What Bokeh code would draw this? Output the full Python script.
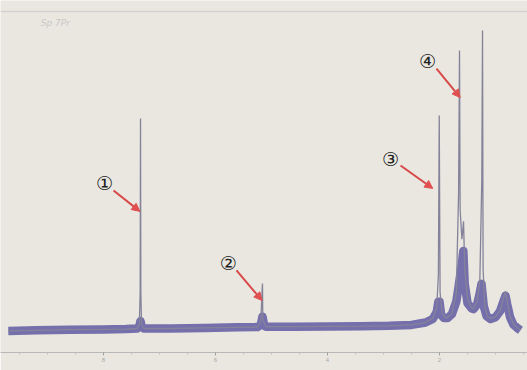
from bokeh.plotting import figure
from bokeh.models import Range1d, Arrow, NormalHead, Span, Label, FixedTicker
from bokeh.embed import file_html
from bokeh.resources import INLINE

# Spectrum (chemical shift in ppm, relative intensity)
spec_ppm = [9.7, 9.2, 8.6, 8.0, 7.6, 7.40, 7.36, 7.345, 7.339, 7.333, 7.32, 7.28,
            6.8, 6.2, 5.6, 5.25, 5.19, 5.17, 5.161, 5.155, 5.10, 4.6, 4.0, 3.4,
            2.9, 2.5, 2.25, 2.12, 2.05, 2.02, 2.005, 1.99, 1.95, 1.89, 1.857, 1.78,
            1.70, 1.66, 1.643, 1.632, 1.60, 1.571, 1.55, 1.50, 1.43, 1.393, 1.33, 1.28,
            1.245, 1.232, 1.222, 1.19, 1.14, 1.089, 1.00, 0.92, 0.86, 0.821, 0.79,
            0.74, 0.68, 0.60, 0.554]
spec_val = [-0.008, -0.006, -0.004, -0.003, -0.002, 0.0, 0.015, 0.12, 0.705, 0.12, 0.015, 0.0,
            0.0, 0.002, 0.004, 0.005, 0.025, 0.12, 0.151, 0.03, 0.006, 0.006, 0.007, 0.008,
            0.009, 0.012, 0.02, 0.035, 0.07, 0.18, 0.715, 0.12, 0.05, 0.037, 0.037, 0.05,
            0.12, 0.45, 0.933, 0.4, 0.3, 0.36, 0.2, 0.1, 0.07, 0.067, 0.09, 0.16,
            0.5, 1.0, 0.2, 0.07, 0.04, 0.034, 0.04, 0.06, 0.1, 0.125, 0.09,
            0.04, 0.015, 0.0, -0.005]

# Noise band along the baseline and the feet of the signals
band_ppm = [9.7, 9.2, 8.6, 8.0, 7.6, 7.40, 7.36, 7.339, 7.32, 7.28, 6.8, 6.2, 5.6,
            5.25, 5.19, 5.161, 5.13, 5.10, 4.6, 4.0, 3.4, 2.9, 2.5, 2.25, 2.12, 2.05,
            2.02, 2.0, 1.97, 1.92, 1.857, 1.78, 1.70, 1.66, 1.63, 1.60, 1.575, 1.55,
            1.50, 1.43, 1.393, 1.33, 1.28, 1.25, 1.21, 1.16, 1.089, 1.00, 0.92, 0.86,
            0.821, 0.79, 0.74, 0.68, 0.60, 0.554]
band_val = [-0.008, -0.006, -0.004, -0.003, -0.002, 0.0, 0.008, 0.025, 0.008, 0.0, 0.0,
            0.002, 0.004, 0.005, 0.012, 0.04, 0.01, 0.006, 0.006, 0.007, 0.008, 0.009,
            0.012, 0.02, 0.032, 0.055, 0.09, 0.09, 0.045, 0.035, 0.035, 0.048, 0.09, 0.14,
            0.18, 0.22, 0.26, 0.15, 0.085, 0.068, 0.065, 0.08, 0.12, 0.15, 0.075, 0.042,
            0.032, 0.038, 0.058, 0.09, 0.11, 0.08, 0.038, 0.013, 0.0, -0.006]

tick_ppm = [8, 6, 4, 2]
tick_labels = ["8", "6", "4", "2"]
minor_ppm = [9.5, 9.0, 8.5, 7.5, 7.0, 6.5, 5.5, 5.0, 4.5, 3.5, 3.0, 2.5, 1.5, 1.0, 0.5]

# Annotated signals: label position, arrow start, arrow end (ppm, intensity)
marks = ["①", "②", "③", "④"]
mark_ppm = [7.98, 5.77, 2.875, 2.214]
mark_val = [0.487, 0.221, 0.570, 0.899]
arrow_x0 = [7.82, 5.625, 2.696, 2.054]
arrow_y0 = [0.463, 0.195, 0.547, 0.872]
arrow_x1 = [7.35, 5.17, 2.12, 1.63]
arrow_y1 = [0.393, 0.094, 0.470, 0.775]

BG = "#e9e7e0"

p = figure(width=527, height=370, output_backend="svg", toolbar_location=None,
           x_range=Range1d(9.839, 0.429), y_range=Range1d(-0.0805, 1.1007),
           min_border_left=0, min_border_right=0, min_border_top=0, min_border_bottom=18)
p.background_fill_color = BG
p.border_fill_color = BG
p.outline_line_color = None
p.grid.visible = False
p.yaxis.visible = False

p.xaxis.ticker = FixedTicker(ticks=tick_ppm, minor_ticks=minor_ppm)
p.xaxis.major_label_overrides = {t: l for t, l in zip(tick_ppm, tick_labels)}
p.xaxis.axis_line_color = "#b8b8b8"
p.xaxis.major_tick_line_color = "#a0a0a0"
p.xaxis.minor_tick_line_color = "#c0c0c0"
p.xaxis.major_tick_out = 3
p.xaxis.major_tick_in = 0
p.xaxis.minor_tick_out = 2
p.xaxis.minor_tick_in = 0
p.xaxis.major_label_standoff = 2
p.xaxis.major_label_text_font_size = "6px"
p.xaxis.major_label_text_color = "#a8a8a8"

p.add_layout(Span(location=1.064, dimension="width", line_color="#d2d2d2", line_width=1.5))

p.line(band_ppm, band_val, line_color="#5b54a0", line_width=8.5, line_alpha=0.82, line_join="round")
p.line(spec_ppm, spec_val, line_color="#85839a", line_width=1.3)

for m, x, y in zip(marks, mark_ppm, mark_val):
    p.add_layout(Label(x=x, y=y, text=m, text_font="DejaVu Sans", text_font_size="19px",
                       text_color="#222222", text_align="center", text_baseline="middle"))

for x0, y0, x1, y1 in zip(arrow_x0, arrow_y0, arrow_x1, arrow_y1):
    p.add_layout(Arrow(x_start=x0, y_start=y0, x_end=x1, y_end=y1,
                       line_color="#d84848", line_width=2,
                       end=NormalHead(size=8, fill_color="#e05050", line_color="#e05050")))

p.add_layout(Label(x=9.12, y=1.007, text="Sp 7Pr", text_font="DejaVu Sans", text_font_size="9px",
                   text_font_style="italic", text_color="#c8c8c8"))

open("out.html", "w").write(file_html(p, INLINE))
